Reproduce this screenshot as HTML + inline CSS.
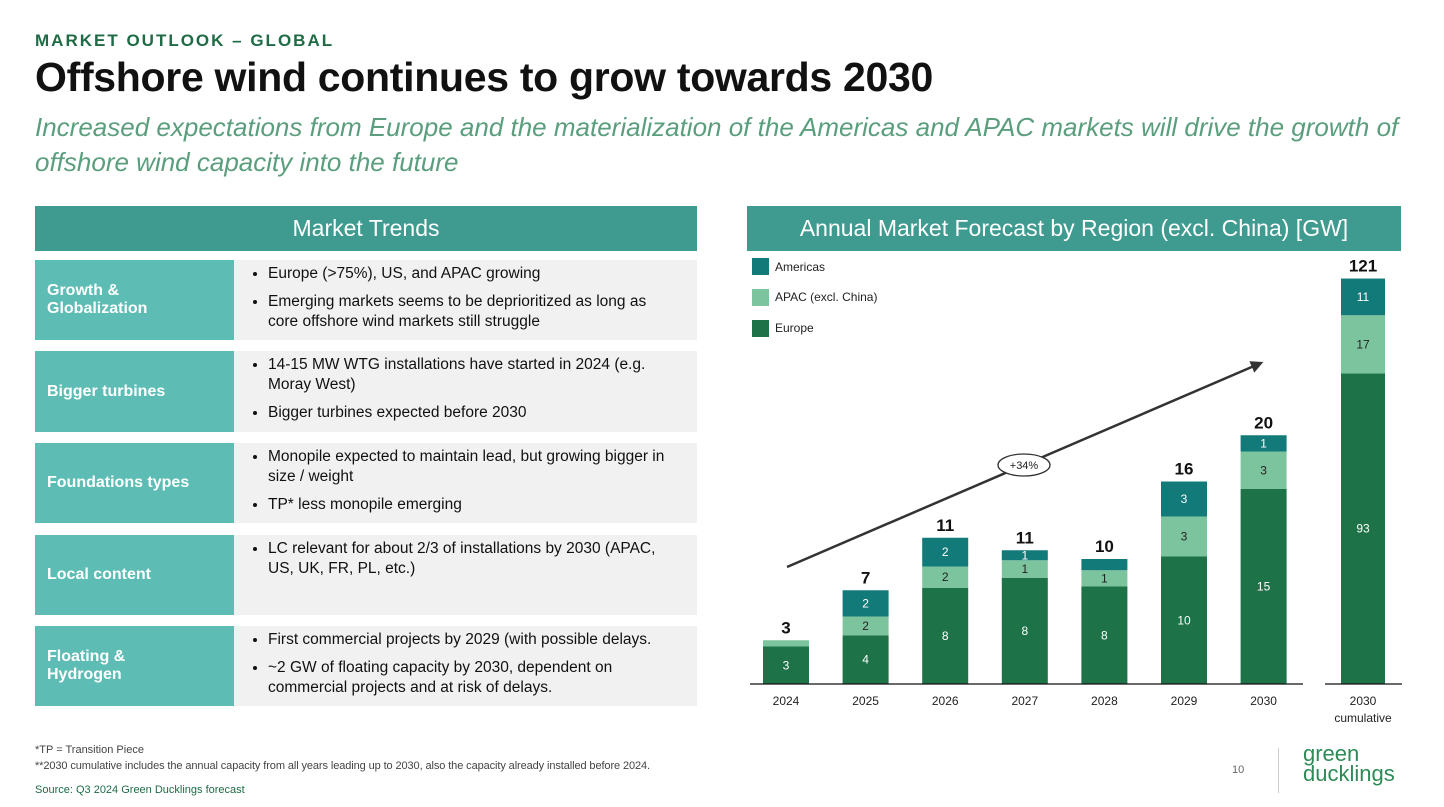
<!DOCTYPE html>
<html><head><meta charset="utf-8"><style>
body{margin:0;width:1444px;height:807px;background:#fff;font-family:"Liberation Sans",sans-serif;position:relative;overflow:hidden}
.a{position:absolute}
.hdr{background:#3f9a8f;color:#fff;font-size:23px;text-align:center;line-height:45px;height:45px;top:206px}
.lab{left:35px;width:199px;background:#5dbdb5;color:#fff;font-weight:bold;font-size:16px;display:flex;align-items:center;padding-left:12px;box-sizing:border-box}
.txt{left:234px;width:463px;background:#f1f1f1;font-size:15.5px;color:#111;box-sizing:border-box;padding:4px 14px 0 8px}
.txt ul{margin:0;padding-left:26px}
.txt li{margin-bottom:8px;line-height:20px}
.leg{left:752px;width:17px;height:17px}
.legt{left:775px;font-size:12px;color:#222}
</style></head><body>
<div class="a" style="left:35px;top:31px;font-size:17px;color:#1e6b45;letter-spacing:2px;font-weight:bold">MARKET OUTLOOK – GLOBAL</div>
<div class="a" style="left:35px;top:54px;font-size:41px;color:#111;font-weight:bold;letter-spacing:-0.3px">Offshore wind continues to grow towards 2030</div>
<div class="a" style="left:35px;top:110px;width:1400px;font-size:26px;line-height:35px;color:#5a9e7d;font-style:italic">Increased expectations from Europe and the materialization of the Americas and APAC markets will drive the growth of offshore wind capacity into the future</div>

<div class="a hdr" style="left:35px;width:662px">Market Trends</div>
<div class="a hdr" style="left:747px;width:654px">Annual Market Forecast by Region (excl. China) [GW]</div>

<div class="a lab" style="top:260px;height:80px">Growth &amp;<br>Globalization</div>
<div class="a txt" style="top:260px;height:80px"><ul><li>Europe (&gt;75%), US, and APAC growing</li><li>Emerging markets seems to be deprioritized as long as<br>core offshore wind markets still struggle</li></ul></div>
<div class="a lab" style="top:351px;height:81px">Bigger turbines</div>
<div class="a txt" style="top:351px;height:81px"><ul><li>14-15 MW WTG installations have started in 2024 (e.g. Moray West)</li><li>Bigger turbines expected before 2030</li></ul></div>
<div class="a lab" style="top:443px;height:80px">Foundations types</div>
<div class="a txt" style="top:443px;height:80px"><ul><li>Monopile expected to maintain lead, but growing bigger in size / weight</li><li>TP* less monopile emerging</li></ul></div>
<div class="a lab" style="top:535px;height:80px">Local content</div>
<div class="a txt" style="top:535px;height:80px"><ul><li>LC relevant for about 2/3 of installations by 2030 (APAC, US, UK, FR, PL, etc.)</li></ul></div>
<div class="a lab" style="top:626px;height:80px">Floating &amp;<br>Hydrogen</div>
<div class="a txt" style="top:626px;height:80px"><ul><li>First commercial projects by 2029 (with possible delays.</li><li>~2 GW of floating capacity by 2030, dependent on commercial projects and at risk of delays.</li></ul></div>

<div class="a leg" style="top:258px;background:#137a7a"></div>
<div class="a legt" style="top:260px">Americas</div>
<div class="a leg" style="top:289px;background:#7cc49e"></div>
<div class="a legt" style="top:290px">APAC (excl. China)</div>
<div class="a leg" style="top:320px;background:#1e7248"></div>
<div class="a legt" style="top:321px">Europe</div>

<svg class="a" style="left:0;top:0" width="1444" height="807" id="chart"></svg>

<div class="a" style="left:35px;top:744px;font-size:11px;color:#444">*TP = Transition Piece</div>
<div class="a" style="left:35px;top:760px;font-size:11px;color:#444;letter-spacing:-0.1px">**2030 cumulative includes the annual capacity from all years leading up to 2030, also the capacity already installed before 2024.</div>
<div class="a" style="left:35px;top:784px;font-size:11px;color:#1e6b45">Source: Q3 2024 Green Ducklings forecast</div>
<div class="a" style="left:1232px;top:764px;font-size:11px;color:#666">10</div>
<div class="a" style="left:1278px;top:748px;width:1px;height:45px;background:#ccc"></div>
<div class="a" style="left:1303px;top:744px;font-size:22px;line-height:20px;color:#2e8b57">green<br>ducklings</div>

<script>
const categories=["2024","2025","2026","2027","2028","2029","2030"];
const europe=[3.0,3.9,7.7,8.5,7.8,10.2,15.6];
const apac=[0.5,1.5,1.7,1.4,1.3,3.2,3.0];
const americas=[0,2.1,2.3,0.8,0.9,2.8,1.3];
const totalLabels=["3","7","11","11","10","16","20"];
const europeLabels=["3","4","8","8","8","10","15"];
const apacLabels=["","2","2","1","1","3","3"];
const americasLabels=["","2","2","1","","3","1"];
const cumCategory="2030";
const cumEurope=93, cumApac=17.4, cumAmericas=11;
const cumLabels=["93","17","11","121"];

const NS="http://www.w3.org/2000/svg";
const svg=document.getElementById('chart');
const base=684, pxPer=12.5, cumPx=3.34, x0=763, step=79.6, bw=46;
const xs=i=>x0+i*step;
const y=v=>base-v*pxPer;
const yc=v=>base-v*cumPx;
function mk(tag,attrs){const e=document.createElementNS(NS,tag);for(const k in attrs)e.setAttribute(k,attrs[k]);svg.appendChild(e);return e;}
function txt(x,yy,s,size,fill,bold){const t=mk('text',{x:x,y:yy,'text-anchor':'middle','font-size':size,fill:fill,'font-family':'Liberation Sans, sans-serif','font-weight':bold?'bold':'normal'});t.textContent=s;return t;}
const colE='#1e7248',colA='#7cc49e',colM='#137a7a';
categories.forEach((c,i)=>{
  const x=xs(i);let acc=0;
  const segs=[[europe[i],colE,europeLabels[i],'#fff','europe'],[apac[i],colA,apacLabels[i],'#222','apac'],[americas[i],colM,americasLabels[i],'#fff','americas']];
  segs.forEach(s=>{
    if(s[0]<=0)return;
    const r=mk('rect',{x:x,y:y(acc+s[0]),width:bw,height:s[0]*pxPer,fill:s[1]});
    
    
    if(s[2]){const t=txt(x+bw/2,y(acc+s[0]/2)+4,s[2],12,s[3]);}
    acc+=s[0];
  });
  const tl=txt(x+bw/2,y(acc)-7,totalLabels[i],17,'#111',true);
  
  
  const xl=txt(x+bw/2,705,c,12,'#222');
  
  
});
const ax=mk('line',{x1:750,y1:base,x2:1303,y2:base,stroke:'#111','stroke-width':1.3});


const cx=1341;let acc=0;
[[cumEurope,colE,cumLabels[0],'#fff','europe'],[cumApac,colA,cumLabels[1],'#222','apac'],[cumAmericas,colM,cumLabels[2],'#fff','americas']].forEach(s=>{
  const r=mk('rect',{x:cx,y:yc(acc+s[0]),width:44,height:s[0]*cumPx,fill:s[1]});
  
  
  const t=txt(cx+22,yc(acc+s[0]/2)+4,s[2],12,s[3]);
  
  
  acc+=s[0];
});
const ct=txt(cx+22,yc(acc)-7,cumLabels[3],17,'#111',true);


const ax2=mk('line',{x1:1325,y1:base,x2:1402,y2:base,stroke:'#111','stroke-width':1.3});


const c1=txt(cx+22,705,cumCategory,12,'#222');


const c2=txt(cx+22,722,'cumulative',12,'#222');


const d=mk('defs',{});d.innerHTML='<marker id="ah" markerWidth="5" markerHeight="5" refX="4" refY="2.5" orient="auto"><path d="M0,0 L5,2.5 L0,5 Z" fill="#333"/></marker>';
const ar=mk('line',{x1:787,y1:567,x2:1261,y2:363,stroke:'#333','stroke-width':2.5,'marker-end':'url(#ah)'});


const el=mk('ellipse',{cx:1024,cy:465,rx:26,ry:11,fill:'#fff',stroke:'#333','stroke-width':1.3});


const gl=txt(1024,469,'+34%',11,'#222');


</script>
</body></html>
